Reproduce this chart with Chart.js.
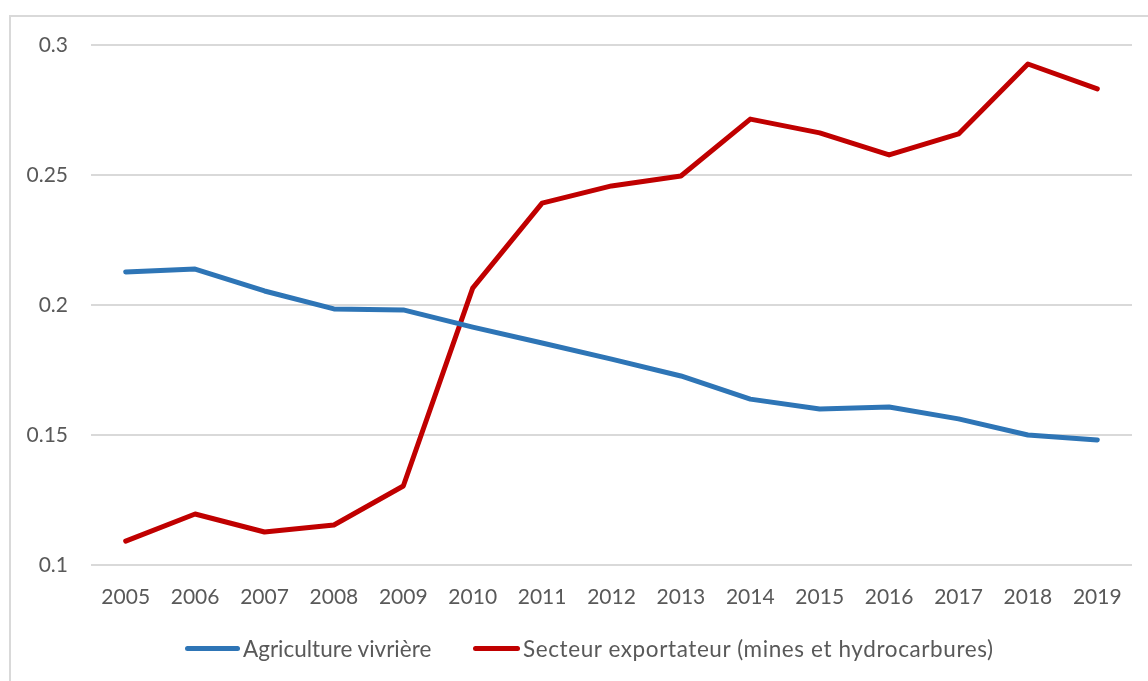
<!DOCTYPE html>
<html>
<head>
<meta charset="utf-8">
<script src="https://cdn.jsdelivr.net/npm/chart.js"></script>
<style>
  body { margin: 0; background: #fff; overflow: hidden; }
  #frame { position: absolute; left: 9px; top: 15px; width: 1200px; height: 700px; border: 2px solid #d9d9d9; box-sizing: border-box; }
  #wrap { position: absolute; left: 0; top: 0; width: 1148px; height: 681px; }
  #legend { position: absolute; top: 635px; left: 0; width: 1148px; font-family: Lato, sans-serif; font-size: 22.5px; color: #595959; }
  .item { position: absolute; display: flex; align-items: center; white-space: nowrap; }
  .swatch { height: 5px; border-radius: 3px; margin-right: 3px; }
</style>
</head>
<body>
<div id="frame"></div>
<div id="wrap"><canvas id="myChart" width="1148" height="681"></canvas></div>
<div id="legend">
  <div class="item" style="left:185px"><span class="swatch" style="width:55px;background:#2E75B6"></span><span>Agriculture vivrière</span></div>
  <div class="item" style="left:473px"><span class="swatch" style="width:47px;background:#C00000"></span><span style="letter-spacing:0.6px">Secteur exportateur (mines et hydrocarbures)</span></div>
</div>
<script>
// years on the x axis
const years = ['2005','2006','2007','2008','2009','2010','2011','2012','2013','2014','2015','2016','2017','2018','2019'];
// Agriculture vivrière
const agriculture = [0.2127,0.2138,0.2054,0.1985,0.1981,0.1915,0.1854,0.1792,0.1727,0.1638,0.1600,0.1608,0.1562,0.1500,0.1481];
// Secteur exportateur (mines et hydrocarbures)
const exportateur = [0.1092,0.1196,0.1127,0.1154,0.1304,0.2065,0.2392,0.2458,0.2496,0.2715,0.2662,0.2577,0.2658,0.2927,0.2831];
const yTicks = [0.1,0.15,0.2,0.25,0.3];

const ctx = document.getElementById('myChart').getContext('2d');
const data = {
    labels: years,
    datasets: [
        {
            label: 'Agriculture vivrière',
            data: agriculture,
            borderColor: '#2E75B6',
            backgroundColor: '#2E75B6',
        },
        {
            label: 'Secteur exportateur (mines et hydrocarbures)',
            data: exportateur,
            borderColor: '#C00000',
            backgroundColor: '#C00000',
        },
    ],
};
data.datasets.forEach(ds => {
    ds.borderWidth = 5;
    ds.pointRadius = 0;
    ds.tension = 0;
    ds.borderCapStyle = 'round';
    ds.borderJoinStyle = 'round';
});

const config = {
    type: 'line',
    data: data,
    options: {
        responsive: false,
        animation: false,
        layout: { padding: { top: 45, right: 16, bottom: 56, left: 0 } },
        plugins: {
            legend: { display: false },
            tooltip: { enabled: false },
        },
        scales: {
            x: {
                offset: true,
                grid: { display: false, drawTicks: false },
                border: { display: false },
                ticks: { padding: 20, color: '#595959', font: { family: 'Lato', size: 21 }, maxRotation: 0 },
                afterFit: s => { s.height = 60; },
            },
            y: {
                min: 0.1,
                max: 0.3,
                grid: { color: '#d9d9d9', lineWidth: 2, drawTicks: false },
                border: { display: false },
                afterBuildTicks: s => { s.ticks = yTicks.map(v => ({ value: v })); },
                ticks: { padding: 23, color: '#595959', font: { family: 'Lato', size: 21 }, callback: v => String(+v.toFixed(2)) },
                afterFit: s => { s.width = 91; },
            },
        },
    },
};

Chart.defaults.color = '#595959';
const linesChart = new Chart(ctx, config);
</script>
</body>
</html>
